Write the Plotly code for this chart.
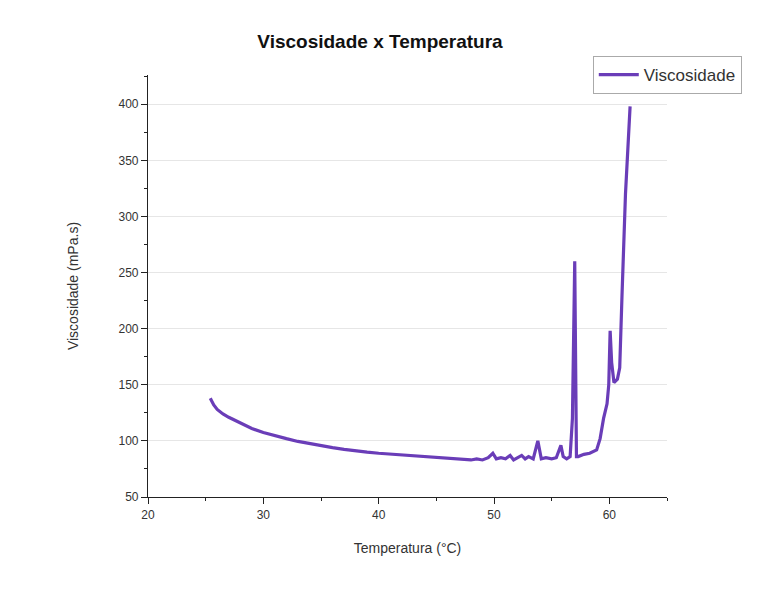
import plotly.graph_objects as go

temperatura = [25.4, 25.7, 26.0, 26.5, 27, 28, 29, 30, 31, 32, 33, 34, 35, 36, 37, 38, 39, 40,
               41, 42, 43, 44, 45, 46, 47, 48, 48.5, 49.0, 49.5, 49.9, 50.2, 50.6, 51.0, 51.4,
               51.7, 52.0, 52.4, 52.7, 53.0, 53.4, 53.8, 54.1, 54.5, 55.0, 55.4, 55.8, 56.0,
               56.3, 56.6, 56.8, 57.0, 57.15, 57.3, 57.8, 58.3, 58.9, 59.2, 59.5, 59.8, 59.95,
               60.07, 60.2, 60.4, 60.7, 60.9, 61.1, 61.4, 61.8]
viscosidade = [138, 132, 128, 124, 121, 116, 111, 107.5, 104.5, 102, 99.5, 97.5, 95.5, 94, 92.5,
               91, 90, 89, 88.3, 87.6, 86.8, 86, 85.2, 84.5, 83.8, 83, 84, 83, 85, 89, 84, 85,
               84, 87, 83, 85, 87, 84, 86, 84, 100, 84, 85, 84, 85, 96, 86, 84, 86, 120, 260,
               86, 86, 88, 89, 92, 102, 120, 133, 150, 198, 170, 152, 155, 165, 230, 320, 398]

x_ticks = [20, 30, 40, 50, 60]
y_ticks = [50, 100, 150, 200, 250, 300, 350, 400]

fig = go.Figure()
fig.add_trace(go.Scatter(
    x=temperatura, y=viscosidade, mode="lines", name="Viscosidade",
    line=dict(color="#6a3db8", width=3.2),
))

fig.update_layout(
    width=760, height=590,
    margin=dict(l=148, r=93, t=75, b=93),
    paper_bgcolor="white", plot_bgcolor="white",
    font=dict(family="Liberation Sans, Arial, sans-serif", color="#333333", size=12),
    title=dict(text="<b>Viscosidade x Temperatura</b>", x=0.5, xanchor="center",
               y=0.93, yanchor="middle", font=dict(size=19, color="#111111")),
    showlegend=True,
    legend=dict(x=0.857, y=1.045, xanchor="left", yanchor="top",
                bordercolor="#aaaaaa", borderwidth=1, bgcolor="white",
                font=dict(size=17, color="#333333"), itemwidth=40,
                tracegroupgap=0),
)
fig.update_xaxes(
    range=[20, 65], tickvals=x_ticks, ticks="outside", ticklen=6, tickcolor="#222",
    showline=True, linecolor="#222", linewidth=1.2, showgrid=False, zeroline=False,
    minor=dict(dtick=5, ticks="outside", ticklen=3, tickcolor="#222"),
    title=dict(text="Temperatura (°C)", font=dict(size=14, color="#333333"), standoff=22),
    tickfont=dict(size=12),
)
fig.update_yaxes(
    range=[50, 426], tickvals=y_ticks, ticks="outside", ticklen=6, tickcolor="#222",
    showline=True, linecolor="#222", linewidth=1.2, showgrid=True, gridcolor="#e6e6e6",
    zeroline=False,
    minor=dict(dtick=25, ticks="outside", ticklen=3, tickcolor="#222", showgrid=False),
    title=dict(text="Viscosidade (mPa.s)", font=dict(size=14, color="#333333"), standoff=36),
    tickfont=dict(size=12),
)

fig.write_html("out.html")
